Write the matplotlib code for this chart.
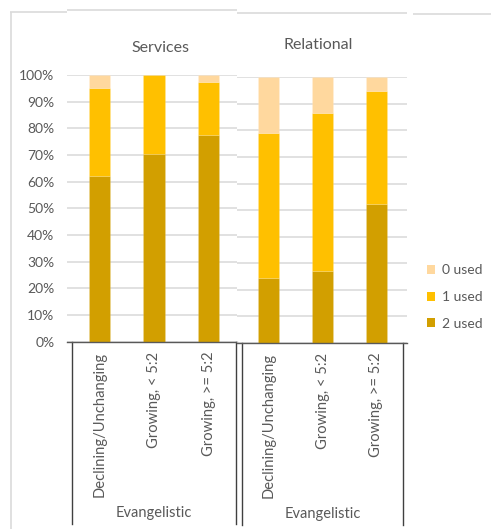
import numpy as np
import matplotlib
matplotlib.use("Agg")
from matplotlib import pyplot as plt
from matplotlib.lines import Line2D
from matplotlib.patches import Patch
import matplotlib.transforms as mtransforms

plt.rcParams['font.family'] = ['Lato', 'DejaVu Sans']

categories = ['Declining/Unchanging', 'Growing, < 5:2', 'Growing, >= 5:2']
group_label = 'Evangelistic'
series_names = ['2 used', '1 used', '0 used']

services_2 = [62.2, 70.3, 77.4]
services_1 = [33.0, 29.7, 20.1]
services_0 = [4.8, 0.0, 2.5]

relational_2 = [24.4, 27.1, 52.5]
relational_1 = [54.6, 59.4, 42.4]
relational_0 = [21.0, 13.5, 5.1]

colors = ['#D29F00', '#FFC000', '#FFD89E']
grid_c = '#D9D9D9'
text_c = '#595959'
frame_c = '#DADADA'

W, H = 491, 529
fig = plt.figure(figsize=(W / 100, H / 100), dpi=100)


def px_axes(x0, y0, x1, y1):
    # pixel box (top-left origin) -> figure axes
    return fig.add_axes([x0 / W, 1 - y1 / H, (x1 - x0) / W, (y1 - y0) / H])


def fig_line(xs, ys, **kw):
    fig.add_artist(Line2D([x / W for x in xs], [1 - y / H for y in ys],
                          transform=fig.transFigure, solid_capstyle='butt', **kw))


def panel(ax, stacks, xlim, div_len, group_y, show_y):
    x = np.arange(len(categories))
    bottom = np.zeros(len(categories))
    for vals, c in zip(stacks, colors):
        ax.bar(x, vals, 0.385, bottom=bottom, color=c, zorder=3,
               edgecolor=(1, 1, 1, 0.15), linewidth=0.5)
        bottom += np.array(vals)
    ax.set_xlim(*xlim)
    ax.set_ylim(0, 100)
    ax.set_yticks(np.arange(0, 101, 10))
    ax.yaxis.grid(True, color=grid_c, linewidth=1.1, zorder=0)
    ax.set_axisbelow(True)
    for s in ['top', 'right', 'left']:
        ax.spines[s].set_visible(False)
    ax.spines['bottom'].set_color('#595959')
    ax.spines['bottom'].set_linewidth(1.0)
    ax.spines['bottom'].set_zorder(4)
    ax.tick_params(axis='y', length=0, labelsize=10, labelcolor=text_c, pad=9)
    if show_y:
        ax.set_yticklabels([f'{v}%' for v in range(0, 101, 10)])
    else:
        ax.set_yticklabels([])
    ax.set_xticks(x)
    ax.set_xticklabels(categories, rotation=90, va='top', ha='center',
                       color=text_c, fontsize=10.6)
    ax.tick_params(axis='x', length=0, pad=7)
    trans = mtransforms.blended_transform_factory(ax.transData, ax.transAxes)
    for xv in (-0.5, len(categories) - 0.5):
        ax.plot([xv, xv], [0, -div_len], color='#404040', linewidth=1.0,
                transform=trans, clip_on=False)
    ax.text(1, group_y, group_label, transform=trans, ha='center',
            va='center', color=text_c, fontsize=10.5)
    ax.patch.set_alpha(0)


ax1 = px_axes(67, 75, 237, 341.7)
panel(ax1, [services_2, services_1, services_0], (-0.591, 2.518),
      0.682, -0.643, True)

ax2 = px_axes(237, 77.3, 407, 343)
panel(ax2, [relational_2, relational_1, relational_0], (-0.593, 2.574),
      0.685, -0.645, False)

fig.text(160 / W, 1 - 48 / H, 'Services', ha='center', va='center',
         color=text_c, fontsize=11.5)
fig.text(318 / W, 1 - 45 / H, 'Relational', ha='center', va='center',
         color=text_c, fontsize=11.5)

# chart frame pieces
fig_line([10, 67], [12, 12], color=frame_c, linewidth=1.2)
fig_line([67, 237], [10.3, 10.3], color=frame_c, linewidth=1.2)
fig_line([237, 407], [12.7, 12.7], color=frame_c, linewidth=1.2)
fig_line([413, 491], [14, 14], color=frame_c, linewidth=1.2)
fig_line([11, 11], [12, 529], color=frame_c, linewidth=1.2)

handles = [Patch(facecolor=c, edgecolor='none') for c in colors][::-1]
fig.legend(handles, series_names[::-1], loc='center left',
           bbox_to_anchor=(414 / W, 1 - 297 / H), frameon=False,
           fontsize=10, labelcolor=text_c, handlelength=0.6,
           handleheight=0.6, handletextpad=0.5, labelspacing=1.05)

fig.savefig('out.png', dpi=100)
